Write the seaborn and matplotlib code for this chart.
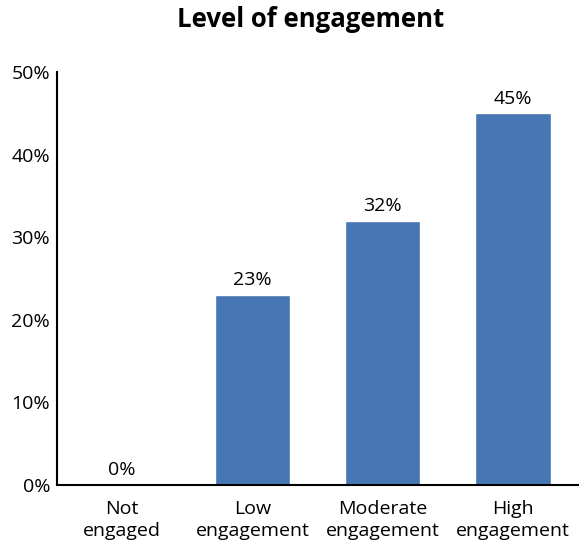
import matplotlib
matplotlib.use("Agg")
import matplotlib.pyplot as plt
import seaborn as sns
import pandas as pd
from matplotlib.ticker import FixedLocator

categories = ["Not\nengaged", "Low\nengagement", "Moderate\nengagement", "High\nengagement"]
values = [0, 23, 32, 45]
yticks = [0, 10, 20, 30, 40, 50]
title = "Level of engagement"

sns.set_style("white")
plt.rcParams['font.family'] = ['Open Sans', 'DejaVu Sans']
plt.rcParams['text.color'] = 'black'
plt.rcParams['xtick.color'] = 'black'
plt.rcParams['ytick.color'] = 'black'

df = pd.DataFrame({"cat": categories, "val": values})

FS = 14
fig = plt.figure(figsize=(5.79, 5.44), dpi=100)
ax = fig.add_axes([57/579, 59/544, 521/579, 413/544])
sns.barplot(data=df, x="cat", y="val", color="#4676B4", saturation=1, width=0.58, ax=ax)

ax.set_xlim(-0.5, 3.5)
ax.set_ylim(0, 50)
ax.set_yticks(yticks)
ax.set_yticklabels([f"{v}%" for v in yticks], fontsize=FS)
ax.set_xlabel("")
ax.set_ylabel("")
ax.tick_params(axis="y", direction="in", length=9, width=1.5, pad=5, labelsize=FS, colors="black")
ax.tick_params(axis="x", which="major", length=0, pad=11, labelsize=FS, colors="black")
ax.xaxis.set_minor_locator(FixedLocator([0.5, 1.5, 2.5, 3.5]))
ax.tick_params(axis="x", which="minor", direction="in", length=8, width=1.5, colors="black")
for lab in ax.get_xticklabels():
    lab.set_linespacing(1.25)

for s in ["top", "right"]:
    ax.spines[s].set_visible(False)
for s in ["left", "bottom"]:
    ax.spines[s].set_color("black")
    ax.spines[s].set_linewidth(1.5)

for i, v in enumerate(values):
    ax.text(i, v + 0.7, f"{v}%", ha="center", va="bottom", fontsize=FS, color="black")

fig.text(311/579, 1 - 27/544, title, fontsize=18.5, fontweight="bold", ha="center",
         va="baseline", color="black")
fig.savefig("out.png", dpi=100)
